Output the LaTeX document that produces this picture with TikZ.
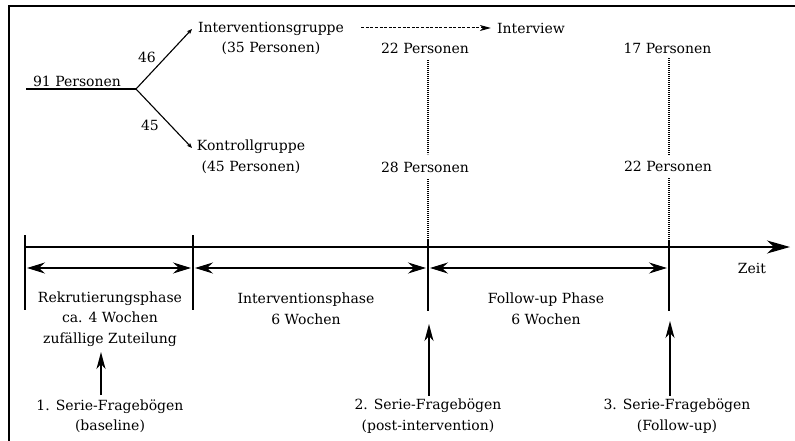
\documentclass[tikz,border=0pt]{standalone}
\usepackage{fontspec}
\setmainfont{DejaVu Serif}
\usetikzlibrary{arrows.meta}
\begin{document}
\begin{tikzpicture}[x=1pt,y=-1pt,
  txt/.style={font=\fontsize{14}{20.5}\selectfont, inner sep=0pt, align=center, text=black},
  frameline/.style={line width=1.4pt, line cap=rect},
  plain/.style={line width=1.2pt},
  branch/.style={line width=1.1pt, -{Stealth[length=5pt,width=4pt,inset=1pt]}},
  interview/.style={line width=1pt, dash pattern=on 3pt off 1.6pt, -{Stealth[length=11pt,width=6pt,inset=3pt]}},
  axis/.style={line width=1.3pt, -{Stealth[length=23pt,width=13pt,inset=7pt]}},
  span/.style={line width=1.2pt, {Stealth[length=18pt,width=11pt,inset=6pt]}-{Stealth[length=18pt,width=11pt,inset=6pt]}},
  uparrow/.style={line width=1.2pt, -{Stealth[length=17pt,width=9pt,inset=5pt]}},
  dots/.style={line width=1.1pt, dash pattern=on 1pt off 1pt}
]
\useasboundingbox (0,0) rectangle (795,441);

% frame (top and left edges)
\draw[frameline] (9,441) -- (9,6) -- (795,6);

% randomisation
\node[txt] (all) at (77,81) {91 Personen};
\coordinate (start) at (26,89);
\coordinate (split) at (136,89);
\draw[plain] (start) -- (split);
\node[txt] (ig) at (271,38.5) {Interventionsgruppe\\(35 Personen)};
\node[txt] (kg) at (251,157) {Kontrollgruppe\\(45 Personen)};
\coordinate (igtip) at (192,29);
\coordinate (kgtip) at (192,148);
\draw[branch] (split) -- (igtip);
\draw[branch] (split) -- (kgtip);
\node[txt] (n46) at (147,57) {46};
\node[txt] (n45) at (150,125) {45};

% interview
\node[txt] (iv) at (531,28) {Interview};
\draw[interview] ([xshift=17pt]ig.east |- iv.west) -- ([xshift=-6pt]iv.west);

% group sizes at the later surveys
\node[txt] (ig2) at (425,48) {22 Personen};
\node[txt] (kg2) at (425,167) {28 Personen};
\node[txt] (ig3) at (667.5,48) {17 Personen};
\node[txt] (kg3) at (668,166) {22 Personen};

% time axis with ticks
\coordinate (a0) at (25,247);
\coordinate (aend) at (790,247);
\draw[axis] (a0) -- (aend);
\node[txt] (zeit) at (752,268) {Zeit};

\coordinate (t0top) at (25,235);   \coordinate (t0bot) at (25,310);
\coordinate (t1top) at (193,235);  \coordinate (t1bot) at (193,310);
\coordinate (t2top) at (428,240);  \coordinate (t2bot) at (428,311);
\coordinate (t3top) at (669,240);  \coordinate (t3bot) at (669,311);
\draw[plain] (t0top) -- (t0bot);
\draw[plain] (t1top) -- (t1bot);
\draw[plain] (t2top) -- (t2bot);
\draw[plain] (t3top) -- (t3bot);

% dotted links between the counts
\draw[dots] ([yshift=-7pt]ig2.south -| t2top) -- ([yshift=7pt]kg2.north -| t2top);
\draw[dots] ([yshift=-7pt]kg2.south -| t2top) -- (t2top);
\draw[dots] ([yshift=-5pt]ig3.south -| t3top) -- ([yshift=5pt]kg3.north -| t3top);
\draw[dots] ([yshift=-7pt]kg3.south -| t3top) -- (t3top);

% phase spans
\draw[span] ([xshift=2pt]t0top |- 0,268) -- ([xshift=-2pt]t1top |- 0,268);
\draw[span] ([xshift=2pt]t1top |- 0,268) -- ([xshift=-2pt]t2top |- 0,268);
\draw[span] ([xshift=2pt]t2top |- 0,268) -- ([xshift=-2pt]t3top |- 0,268);

\node[txt] (ph1) at (110,319) {Rekrutierungsphase\\ca. 4 Wochen\\zufällige Zuteilung};
\node[txt] (ph2) at (306,309) {Interventionsphase\\6 Wochen};
\node[txt] (ph3) at (546,309) {Follow-up Phase\\6 Wochen};

% questionnaire series
\node[txt] (s1) at (110,416) {1. Serie-Fragebögen\\(baseline)};
\node[txt] (s2) at (428,416) {2. Serie-Fragebögen\\(post-intervention)};
\node[txt] (s3) at (677,416) {3. Serie-Fragebögen\\(Follow-up)};

\coordinate (u1) at (101,352);
\coordinate (u2) at (429,324);
\coordinate (u3) at (670,321);
\draw[uparrow] ([yshift=4pt]s1.north -| u1) -- (u1);
\draw[uparrow] ([yshift=3pt]s2.north -| u2) -- (u2);
\draw[uparrow] ([yshift=3pt]s3.north -| u3) -- (u3);
\end{tikzpicture}
\end{document}
